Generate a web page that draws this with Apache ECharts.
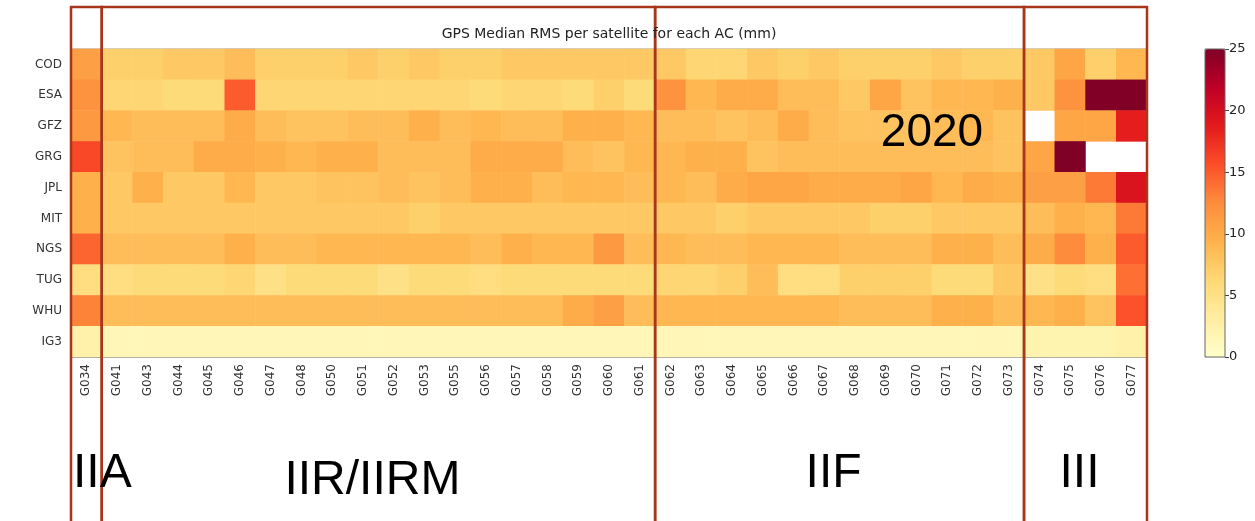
<!DOCTYPE html>
<html><head><meta charset="utf-8">
<script src="https://cdn.jsdelivr.net/npm/echarts@6/dist/echarts.min.js"></script>
<style>html,body{margin:0;padding:0;background:#fff}#c{width:1255px;height:521px}</style>
</head><body><div id="c"></div>
<script>
const satellites = ['G034','G041','G043','G044','G045','G046','G047','G048','G050','G051','G052','G053','G055','G056','G057','G058','G059','G060','G061','G062','G063','G064','G065','G066','G067','G068','G069','G070','G071','G072','G073','G074','G075','G076','G077'];
const centers = ['COD','ESA','GFZ','GRG','JPL','MIT','NGS','TUG','WHU','IG3'];
const COD = [11,7,7,7.5,7.5,8.5,7,7,7,7.5,7,7.5,7,7,7.5,7.5,7.5,7.5,7.5,7.5,6.5,6.5,7.5,7,7.5,7,7,7,7.5,7,7,7.5,10.5,7,9];
const ESA = [12,6.5,6.5,6,6,15,6.5,6.5,6.5,6.5,6.5,6.5,6.5,6,6.5,6.5,6,7,6,12,9,10,10,8.5,8.5,7.5,10.5,8,9,9,9.5,7.5,12,25,25];
const GFZ = [11.5,9,8.5,8.5,8.5,10,8.5,8,8,8.5,8.5,9.5,8.5,9,8.5,8.5,9.5,9.5,9,8.5,8.5,8,8.5,10,8.5,8,8,8,8.5,9,8,'-',10.5,10.5,18.5];
const GRG = [16,8,8.5,8.5,10,10,9.5,9,9.5,9.5,8.5,8.5,8.5,10,10,10,8.5,8,9,9,9.5,9.5,8,8.5,8.5,8.5,8.5,8.5,8.5,8.5,8,10.5,25,'-','-'];
const JPL = [9.5,7.5,9.5,7.5,7.5,9,7.5,7.5,8,8,8.5,8,8.5,9.5,9.5,8.5,9,9,8.5,9,8.5,10,10.5,10.5,10,10,10,10.5,9,10,9.5,11,11,13.5,19.5];
const MIT = [9.5,7.5,7.5,7.5,7.5,7.5,7.5,7.5,7.5,7.5,7.5,7,7.5,7.5,7.5,7.5,7.5,7.5,7.5,7.5,7.5,7,7.5,7.5,7.5,7.5,7,7,7.5,7.5,7.5,8.5,9.5,9,13.5];
const NGS = [14.5,8.5,8.5,8.5,8.5,9.5,8.5,8.5,9,9,9,9,9,8.5,9.5,9,9,11.5,8.5,9,8.5,8.5,9,9,9,8.5,8.5,8.5,9.5,9.5,8.5,10,12.5,9.5,15];
const TUG = [5.5,5.5,6,6,6,6.5,5,6,6,6,5,6,6,5.5,6,6,6,6,6,6.5,6.5,7,8.5,5.5,5.5,7,7,7,6,6,7.5,5,6,5.5,14];
const WHU = [13,8.5,8.5,8.5,8.5,8.5,8.5,8.5,8.5,8.5,8.5,8.5,8.5,8.5,8.5,8.5,10,11,8.5,9,9,9,9,9,9,8.5,8.5,8.5,9.5,9.5,8.5,9,9.5,8,15.5];
const IG3 = [2.5,1.5,1.5,1.5,1.5,1.5,1.5,1.5,1.5,1.5,1.5,1.5,1.5,1.5,1.5,1.5,1.5,1.5,1.5,1.5,1.5,1.5,1.5,1.5,1.5,1.5,1.5,1.5,1.5,1.5,1.5,2,2,2,2.5];
const rows = [COD, ESA, GFZ, GRG, JPL, MIT, NGS, TUG, WHU, IG3];
const colorbarMin = 0, colorbarMax = 25, colorbarStep = 5;
const blocks = [
  {name:'IIA', from:'G034', to:'G034'},
  {name:'IIR/IIRM', from:'G041', to:'G061'},
  {name:'IIF', from:'G062', to:'G073'},
  {name:'III', from:'G074', to:'G077'}
];
const yearLabel = '2020';
const titleText = 'GPS Median RMS per satellite for each AC (mm)';
const ylOrRd = ['#ffffcc','#ffeda0','#fed976','#feb24c','#fd8d3c','#fc4e2a','#e31a1c','#bd0026','#800026'];

const data = [];
rows.forEach((r, i) => r.forEach((v, j) => data.push([j, i, v])));

const chart = echarts.init(document.getElementById('c'), null, {renderer:'canvas'});
const FONT = 'DejaVu Sans';
chart.setOption({
  animation: false,
  grid: [
    {left: 71, right: 108, top: 49, bottom: 164, show: true, borderColor: '#999', borderWidth: 1, backgroundColor: 'transparent'},
    {left: 1205, width: 20, top: 49, height: 308, show: true, borderColor: '#666', borderWidth: 1, z: 10}
  ],
  xAxis: [
    {type: 'category', gridIndex: 0, data: satellites, position: 'bottom',
     axisLabel: {rotate: 90, fontSize: 12, color: '#333', fontFamily: FONT, margin: 7, interval: 0},
     axisTick: {alignWithLabel: true, length: 4, lineStyle: {color: '#444'}},
     axisLine: {show: true, lineStyle: {color: '#999'}}, splitLine: {show: false}},
    {type: 'category', gridIndex: 1, data: [''], show: false}
  ],
  yAxis: [
    {type: 'category', gridIndex: 0, data: centers, inverse: true,
     axisLabel: {fontSize: 12, color: '#333', fontFamily: FONT, margin: 9},
     axisTick: {alignWithLabel: true, length: 5, lineStyle: {color: '#444'}},
     axisLine: {show: false}, splitLine: {show: false}},
    {type: 'value', gridIndex: 1, min: colorbarMin, max: colorbarMax, interval: colorbarStep, position: 'right',
     axisLine: {show: false}, splitLine: {show: false},
     axisTick: {show: true, length: 4, lineStyle: {color: '#444'}},
     axisLabel: {fontSize: 13, color: '#222', fontFamily: FONT, margin: 4}}
  ],
  visualMap: {
    type: 'continuous', min: colorbarMin, max: colorbarMax, seriesIndex: 0, orient: 'vertical',
    left: 1205, top: 49, itemWidth: 20, itemHeight: 308, padding: 0, calculable: false, hoverLink: false,
    inRange: {color: ylOrRd}
  },
  series: [{
    type: 'heatmap', xAxisIndex: 0, yAxisIndex: 0, data: data,
    itemStyle: {borderWidth: 0}, emphasis: {disabled: true}, progressive: 0
  }]
});

// annotations positioned from the axis scale
const cx = c => chart.convertToPixel({xAxisIndex: 0}, c);
const cy = c => chart.convertToPixel({yAxisIndex: 0}, c);
const bw = cx(satellites[1]) - cx(satellites[0]);
const plotTop = cy(centers[0]) - (cy(centers[1]) - cy(centers[0])) / 2;
const mc = document.createElement('canvas').getContext('2d');
const labelFont = '48px "Liberation Sans"';
mc.font = labelFont;
const RED = '#a8361b';
const graphics = [];
blocks.forEach((b) => {
  const x0 = cx(b.from) - bw / 2, x1 = cx(b.to) + bw / 2;
  graphics.push({type: 'rect', z: 100, shape: {x: x0, y: 7, width: x1 - x0, height: 600},
    style: {fill: 'none', stroke: RED, lineWidth: 2.5}});
  const w = mc.measureText(b.name).width;
  const mid = Math.max((x0 + x1) / 2 - 6, x0 + 2 + w / 2);
  graphics.push({type: 'text', z: 101, style: {text: b.name, x: mid, y: b.name.length > 4 ? 481 : 474,
    textAlign: 'center', textVerticalAlign: 'middle', font: labelFont, fill: '#000'}});
});
const gridMid = (cx(satellites[0]) + cx(satellites[satellites.length - 1])) / 2;
graphics.push({type: 'text', z: 101, style: {text: titleText, x: gridMid, y: plotTop - 15,
  textAlign: 'center', textVerticalAlign: 'middle', font: '14px "DejaVu Sans"', fill: '#222'}});
graphics.push({type: 'text', z: 101, style: {text: yearLabel, x: 932, y: 133,
  textAlign: 'center', textVerticalAlign: 'middle', font: '46px "Liberation Sans"', fill: '#000'}});
chart.setOption({graphic: graphics});
</script>
</body></html>
